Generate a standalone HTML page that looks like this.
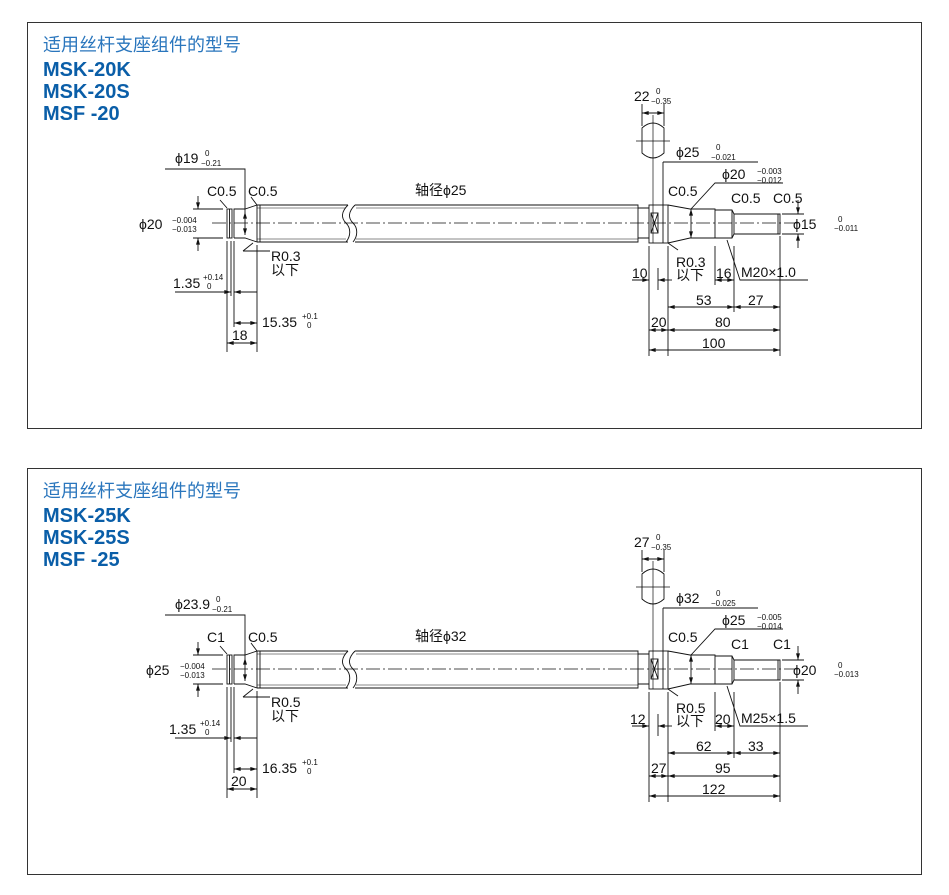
<!DOCTYPE html>
<html><head><meta charset="utf-8"><style>
html,body{margin:0;padding:0;background:#fff;}
svg{display:block;}
text{font-family:"Liberation Sans","Noto Sans CJK SC",sans-serif;fill:#111;font-size:14px;}
.t{font-size:8px;}
.h{fill:#2a76bd;font-size:18px;}
.b{fill:#0a5ea8;font-size:20px;font-weight:bold;}
</style></head><body>
<svg width="949" height="895" viewBox="0 0 949 895" xmlns="http://www.w3.org/2000/svg">
<defs>
<marker id="a" viewBox="0 0 10 6" refX="10" refY="3" markerWidth="7" markerHeight="4" orient="auto-start-reverse" markerUnits="userSpaceOnUse"><path d="M0,0L10,3L0,6z" fill="#111"/></marker>
<g id="geo" fill="none" stroke="#111" stroke-width="0.9">
<path d="M212,223H800" stroke-dasharray="14,3,2,3" stroke-width="0.7"/>
<rect x="227" y="209" width="5" height="29"/><line x1="229.5" y1="209" x2="229.5" y2="238"/>
<path d="M234,238V209H245L257,205M234,238H245L257,242"/>
<line x1="245" y1="212" x2="245" y2="235" marker-start="url(#a)" marker-end="url(#a)"/>
<path d="M257,205H348M257,242H348M257,205V242M260,205V242"/>
<path d="M348,205C341,212 341,218 346,223C351,228 351,236 346,242"/>
<path d="M355,205C348,212 348,218 353,223C358,228 358,236 353,242"/>
<path d="M355,205H638V242H355"/>
<path d="M257,208H346M257,239H346M356,208H638M356,239H638" stroke-width="0.5"/>
<path d="M638,208H649M638,238H649"/>
<rect x="649" y="205" width="19" height="38"/>
<rect x="651" y="213" width="7" height="20"/><path d="M651,213L658,233M658,213L651,233"/>
<line x1="663" y1="162" x2="663" y2="243"/>
<path d="M668,205L690,209H715V238H690L668,243"/>
<line x1="691" y1="209" x2="691" y2="238" marker-start="url(#a)" marker-end="url(#a)"/>
<path d="M715,210H732L734,214M715,238H732L734,234M732,210V238M734,214V234"/>
<path d="M734,214H780V234H734"/><line x1="778" y1="214" x2="778" y2="234"/>
<path d="M642,128Q653,118 664,128V153Q653,163 642,153Z"/>
<path d="M636,141H670M653,115V243" stroke-width="0.7"/>
<path d="M642,104V126M664,104V126"/>
<line x1="642" y1="113" x2="664" y2="113" marker-start="url(#a)" marker-end="url(#a)"/>
<path d="M663,162H758"/>
<path d="M691,209L715,183H783"/>
<path d="M727,240L740,280H808"/>
<path d="M668,243L678,250"/>
<path d="M649,246V356M668,246V356M715,246V285M734,246V312M780,236V356M658,268V290"/>
<line x1="632" y1="280" x2="649" y2="280" marker-end="url(#a)"/>
<line x1="672" y1="280" x2="658" y2="280" marker-end="url(#a)"/>
<line x1="715" y1="280" x2="734" y2="280" marker-start="url(#a)" marker-end="url(#a)"/>
<line x1="668" y1="307" x2="734" y2="307" marker-start="url(#a)" marker-end="url(#a)"/>
<line x1="734" y1="307" x2="780" y2="307" marker-start="url(#a)" marker-end="url(#a)"/>
<line x1="649" y1="330" x2="668" y2="330" marker-start="url(#a)" marker-end="url(#a)"/>
<line x1="668" y1="330" x2="780" y2="330" marker-start="url(#a)" marker-end="url(#a)"/>
<line x1="649" y1="350" x2="780" y2="350" marker-start="url(#a)" marker-end="url(#a)"/>
<path d="M782,214H804M782,234H804"/>
<line x1="798" y1="200" x2="798" y2="214" marker-end="url(#a)"/>
<line x1="798" y1="248" x2="798" y2="234" marker-end="url(#a)"/>
<path d="M193,209H223M193,238H223"/>
<line x1="198" y1="196" x2="198" y2="209" marker-end="url(#a)"/>
<line x1="198" y1="251" x2="198" y2="238" marker-end="url(#a)"/>
<path d="M165,169H245V212"/>
<path d="M227,208L220,200M257,205L251,197"/>
<path d="M243,251L253,243M243,251H270"/>
<path d="M227,241V352M231,241V296M234,241V327M257,245V352"/>
<line x1="175" y1="292" x2="231" y2="292" marker-end="url(#a)"/>
<line x1="257" y1="292" x2="234" y2="292" marker-end="url(#a)"/>
<line x1="234" y1="323" x2="257" y2="323" marker-start="url(#a)" marker-end="url(#a)"/>
<line x1="227" y1="343" x2="257" y2="343" marker-start="url(#a)" marker-end="url(#a)"/>
</g>
</defs>
<rect x="27.5" y="22.5" width="894" height="406" fill="none" stroke="#333"/>
<rect x="27.5" y="468.5" width="894" height="406" fill="none" stroke="#333"/>
<use href="#geo"/>
<use href="#geo" transform="translate(0,446)"/>

<text class="h" x="43" y="51">适用丝杆支座组件的型号</text>
<text class="b" x="43" y="76">MSK-20K</text>
<text class="b" x="43" y="98">MSK-20S</text>
<text class="b" x="43" y="120">MSF -20</text>
<text x="175" y="163">ϕ19</text><text class="t" x="205" y="156">0</text><text class="t" x="201" y="166">−0.21</text>
<text x="207" y="196">C0.5</text><text x="248" y="196">C0.5</text>
<text x="139" y="229">ϕ20</text><text class="t" x="172" y="223">−0.004</text><text class="t" x="172" y="232">−0.013</text>
<text x="271" y="261">R0.3</text><text x="271" y="275">以下</text>
<text x="173" y="288">1.35</text><text class="t" x="203" y="280">+0.14</text><text class="t" x="207" y="289">0</text>
<text x="262" y="327">15.35</text><text class="t" x="302" y="319">+0.1</text><text class="t" x="307" y="328">0</text>
<text x="232" y="340">18</text>
<text x="415" y="195">轴径ϕ25</text>
<text x="634" y="101">22</text><text class="t" x="656" y="94">0</text><text class="t" x="651" y="104">−0.35</text>
<text x="676" y="157">ϕ25</text><text class="t" x="716" y="150">0</text><text class="t" x="711" y="160">−0.021</text>
<text x="722" y="179">ϕ20</text><text class="t" x="757" y="174">−0.003</text><text class="t" x="757" y="183">−0.012</text>
<text x="668" y="196">C0.5</text><text x="731" y="203">C0.5</text><text x="773" y="203">C0.5</text>
<text x="793" y="229">ϕ15</text><text class="t" x="838" y="222">0</text><text class="t" x="834" y="231">−0.011</text>
<text x="676" y="267">R0.3</text><text x="676" y="280">以下</text>
<text x="632" y="278">10</text><text x="716" y="278">16</text><text x="741" y="277">M20×1.0</text>
<text x="696" y="305">53</text><text x="748" y="305">27</text>
<text x="651" y="327">20</text><text x="715" y="327">80</text>
<text x="702" y="348">100</text>

<g transform="translate(0,446)">
<text class="h" x="43" y="51">适用丝杆支座组件的型号</text>
<text class="b" x="43" y="76">MSK-25K</text>
<text class="b" x="43" y="98">MSK-25S</text>
<text class="b" x="43" y="120">MSF -25</text>
<text x="175" y="163">ϕ23.9</text><text class="t" x="216" y="156">0</text><text class="t" x="212" y="166">−0.21</text>
<text x="207" y="196">C1</text><text x="248" y="196">C0.5</text>
<text x="146" y="229">ϕ25</text><text class="t" x="180" y="223">−0.004</text><text class="t" x="180" y="232">−0.013</text>
<text x="271" y="261">R0.5</text><text x="271" y="275">以下</text>
<text x="169" y="288">1.35</text><text class="t" x="200" y="280">+0.14</text><text class="t" x="205" y="289">0</text>
<text x="262" y="327">16.35</text><text class="t" x="302" y="319">+0.1</text><text class="t" x="307" y="328">0</text>
<text x="231" y="340">20</text>
<text x="415" y="195">轴径ϕ32</text>
<text x="634" y="101">27</text><text class="t" x="656" y="94">0</text><text class="t" x="651" y="104">−0.35</text>
<text x="676" y="157">ϕ32</text><text class="t" x="716" y="150">0</text><text class="t" x="711" y="160">−0.025</text>
<text x="722" y="179">ϕ25</text><text class="t" x="757" y="174">−0.005</text><text class="t" x="757" y="183">−0.014</text>
<text x="668" y="196">C0.5</text><text x="731" y="203">C1</text><text x="773" y="203">C1</text>
<text x="793" y="229">ϕ20</text><text class="t" x="838" y="222">0</text><text class="t" x="834" y="231">−0.013</text>
<text x="676" y="267">R0.5</text><text x="676" y="280">以下</text>
<text x="630" y="278">12</text><text x="715" y="278">20</text><text x="741" y="277">M25×1.5</text>
<text x="696" y="305">62</text><text x="748" y="305">33</text>
<text x="651" y="327">27</text><text x="715" y="327">95</text>
<text x="702" y="348">122</text>
</g>
</svg>
</body></html>
